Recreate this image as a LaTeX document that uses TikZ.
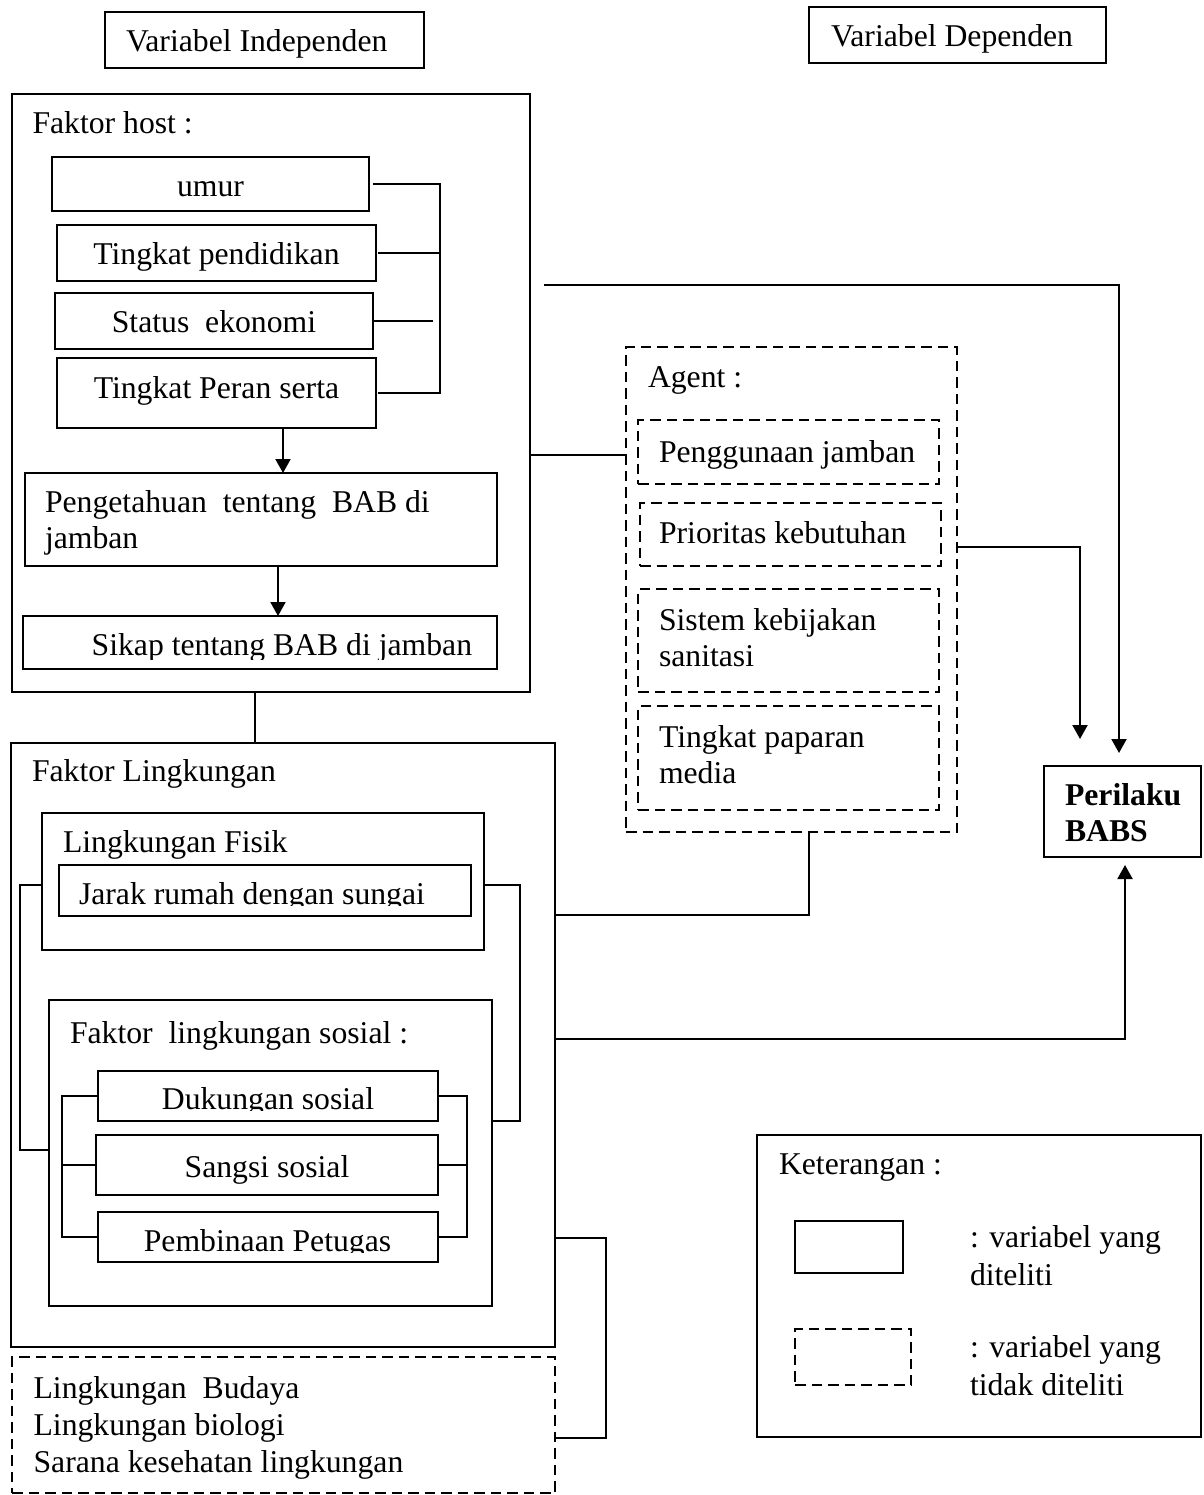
\documentclass[tikz,border=0pt]{standalone}
\usepackage{fontspec}
\setmainfont{Liberation Serif}
\usetikzlibrary{arrows.meta,fit}
\begin{document}
\begin{tikzpicture}[x=1pt,y=-1pt,
  line width=2pt,
  sbox/.style={draw, line width=2pt, inner sep=0pt, outer sep=0pt},
  dbox/.style={sbox, dash pattern=on 10.5pt off 6pt},
  txt/.style={font=\fontsize{31.7}{37}\selectfont, inner sep=0pt, outer sep=0pt, anchor=base west},
  ctxt/.style={txt, anchor=base},
  wire/.style={draw, line width=2pt},
  arrowline/.style={wire, -{Triangle[width=15pt,length=14pt]}}]

\fill[white] (0,0) rectangle (1203,1495);
\useasboundingbox (0,0) rectangle (1203,1495);

% ---------- headings ----------
\node[sbox, fit={(105,12) (424,68)}] (vind) {};
\node[txt] (vindT) at (126,52) {Variabel Independen};
\node[sbox, fit={(809,7) (1106,63)}] (vdep) {};
\node[txt] (vdepT) at (831,47) {Variabel Dependen};

% ---------- host factors ----------
\node[sbox, fit={(12,94) (530,692)}] (host) {};
\node[txt] (hostT) at (32.5,134) {Faktor host :};

\node[sbox, fit={(52,157) (369,211)}] (umur) {};
\node[ctxt] (umurT) at (210.5,197) {umur};
\node[sbox, fit={(57,225) (376,281)}] (pend) {};
\node[ctxt] (pendT) at (216.5,265) {Tingkat pendidikan};
\node[sbox, fit={(55,293) (373,349)}] (stat) {};
\node[ctxt] (statT) at (214,332) {Status\ \ ekonomi};
\node[sbox, fit={(57,358) (376,428)}] (peran) {};
\node[ctxt] (peranT) at (216.5,398) {Tingkat Peran serta};

\node[sbox, fit={(25,473) (497,566)}] (penget) {};
\node[txt] (pengetT1) at (45,512) {Pengetahuan\ \ tentang\ \ BAB di};
\node[txt] (pengetT2) at (45,548) {jamban};

\node[sbox, fit={(23,616) (497,669)}] (sikap) {};
\begin{scope}
  \clip (23,616) rectangle (497,659);
  \node[txt] (sikapT) at (91.7,655) {Sikap tentang BAB di jamban};
\end{scope}

% ---------- agent ----------
\node[dbox, fit={(626,347) (957,832)}] (agent) {};
\node[txt] (agentT) at (648,387.5) {Agent :};
\node[dbox, fit={(638,420) (939,484)}] (pengg) {};
\node[txt] (penggT) at (659,462) {Penggunaan jamban};
\node[dbox, fit={(640,503) (941,566)}] (prior) {};
\node[txt] (priorT) at (659,543.5) {Prioritas kebutuhan};
\node[dbox, fit={(638,589) (939,692)}] (sistem) {};
\node[txt] (sistemT1) at (659,630.5) {Sistem kebijakan};
\node[txt] (sistemT2) at (659,666.5) {sanitasi};
\node[dbox, fit={(638,706) (939,810)}] (papar) {};
\node[txt] (paparT1) at (659,747.5) {Tingkat paparan};
\node[txt] (paparT2) at (659,783.5) {media};

% ---------- dependent variable ----------
\node[sbox, fit={(1044,766) (1201,857)}] (babs) {};
\node[txt, font=\fontsize{31.7}{37}\selectfont\bfseries] (babsT1) at (1065,805) {Perilaku};
\node[txt, font=\fontsize{31.7}{37}\selectfont\bfseries] (babsT2) at (1065,841) {BABS};

% ---------- environment ----------
\node[sbox, fit={(11,743) (555,1347)}] (ling) {};
\node[txt] (lingT) at (32,781) {Faktor Lingkungan};

\node[sbox, fit={(42,813) (484,950)}] (fisik) {};
\node[txt] (fisikT) at (63,852) {Lingkungan Fisik};
\node[sbox, fit={(59,865) (471,916)}] (jarak) {};
\begin{scope}
  \clip (59,865) rectangle (471,905.6);
  \node[txt] (jarakT) at (79,904.8) {Jarak rumah dengan sungai};
\end{scope}

\node[sbox, fit={(49,1000) (492,1306)}] (sosial) {};
\node[txt] (sosialT) at (70,1043) {Faktor\ \ lingkungan sosial :};
\node[sbox, fit={(98,1071) (438,1121)}] (dukung) {};
\begin{scope}
  \clip (98,1071) rectangle (438,1110);
  \node[ctxt] (dukungT) at (268,1109) {Dukungan sosial};
\end{scope}
\node[sbox, fit={(96,1135) (438,1195)}] (sangsi) {};
\node[ctxt] (sangsiT) at (267,1177) {Sangsi sosial};
\node[sbox, fit={(98,1212) (438,1262)}] (pembin) {};
\begin{scope}
  \clip (98,1212) rectangle (438,1252.5);
  \node[ctxt] (pembinT) at (267.5,1251.5) {Pembinaan Petugas};
\end{scope}

\node[dbox, fit={(12,1357) (555,1493)}] (budaya) {};
\node[txt] (budayaT1) at (33.6,1398) {Lingkungan\ \ Budaya};
\node[txt] (budayaT2) at (33.6,1435) {Lingkungan biologi};
\node[txt] (budayaT3) at (33.6,1472.6) {Sarana kesehatan lingkungan};

% ---------- legend ----------
\node[sbox, fit={(757,1135) (1201,1437)}] (legend) {};
\node[txt] (legendT) at (779,1174) {Keterangan :};
\node[sbox, fit={(795,1221) (903,1273)}] (legsolid) {};
\node[txt] (legsolidT1) at (970,1247) {: variabel yang};
\node[txt] (legsolidT2) at (970,1285) {diteliti};
\node[dbox, fit={(795,1329) (911,1385)}] (legdash) {};
\node[txt] (legdashT1) at (970,1357) {: variabel yang};
\node[txt] (legdashT2) at (970,1395) {tidak diteliti};

% ---------- connectors: host bracket ----------
\coordinate (hbtop) at (440,184);
\coordinate (hbs) at (433,0);
\draw[wire] ([xshift=4pt]umur.east) -- (hbtop) -- (hbtop |- peran.east) -- ([xshift=2pt]peran.east);
\draw[wire] ([xshift=2pt]pend.east) -- (hbtop |- pend.east);
\draw[wire] ([xshift=1pt]stat.east) -- (hbs |- stat.east);

\coordinate (ax1) at (283,0);
\coordinate (ax2) at (278,0);
\draw[arrowline] (ax1 |- peran.south) -- (ax1 |- penget.north);
\draw[arrowline] (ax2 |- penget.south) -- (ax2 |- sikap.north);

% host to environment
\coordinate (hx) at (255,0);
\draw[wire] (hx |- host.south) -- (hx |- ling.north);

% long line into the dependent variable
\coordinate (topstart) at (544,285);
\coordinate (tx) at (1119,0);
\draw[arrowline, shorten >=13pt] (topstart) -| (tx |- babs.north);

% host to agent
\coordinate (ya) at (0,455);
\draw[wire] (host.east |- ya) -- (agent.west |- ya);

% agent to dependent variable
\coordinate (yb) at (0,547);
\coordinate (xb) at (1080,0);
\draw[arrowline, shorten >=27pt] (agent.east |- yb) -| (xb |- babs.north);

% agent to environment
\coordinate (xc) at (809,0);
\coordinate (yc) at (0,915);
\draw[wire] (xc |- agent.south) |- (ling.east |- yc);

% environment to dependent variable
\coordinate (yd) at (0,1039);
\coordinate (xd) at (1125,0);
\draw[arrowline, shorten >=8pt] (ling.east |- yd) -| (xd |- babs.south);

% environment to other environment factors
\coordinate (ye) at (0,1238);
\coordinate (yf) at (0,1438);
\coordinate (xe) at (606,0);
\draw[wire] (ling.east |- ye) -| (xe |- yf) -- (budaya.east |- yf);

% physical / social brackets
\coordinate (yg) at (0,885);
\coordinate (yh) at (0,1150);
\coordinate (yi) at (0,1121);
\coordinate (xl) at (20,0);
\coordinate (xr) at (520,0);
\draw[wire] (fisik.west |- yg) -| (xl |- yh) -- (sosial.west |- yh);
\draw[wire] (fisik.east |- yg) -| (xr |- yi) -- (sosial.east |- yi);

% social factor brackets
\coordinate (xil) at (62,0);
\coordinate (xir) at (467,0);
\draw[wire] (dukung.west) -| (xil |- pembin.west) -- (pembin.west);
\draw[wire] (sangsi.west) -- (xil |- sangsi.west);
\draw[wire] (dukung.east) -| (xir |- pembin.east) -- (pembin.east);
\draw[wire] (sangsi.east) -- (xir |- sangsi.east);

\end{tikzpicture}
\end{document}
